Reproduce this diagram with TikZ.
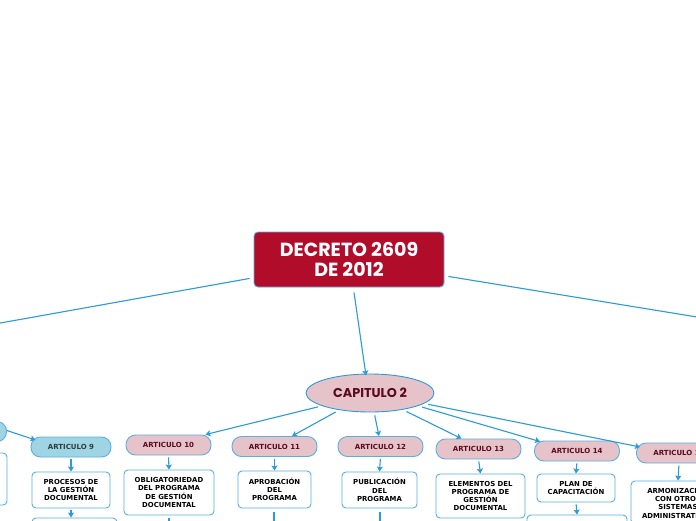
\documentclass[tikz,border=0pt]{standalone}
\usepackage{fontspec}
\setmainfont{DejaVu Sans}
\newfontfamily\titlefont{Poppins}
\usetikzlibrary{arrows.meta,shapes.geometric}
\definecolor{crim}{HTML}{B20C2B}
\definecolor{conncol}{HTML}{2B9BDB}
\definecolor{bordcol}{HTML}{5AAEE6}
\definecolor{pinkfill}{HTML}{E6C3C9}
\definecolor{bluefill}{HTML}{9FD5E3}
\definecolor{maroon}{HTML}{5A0A1E}
\definecolor{slate}{HTML}{2F3B40}
\tikzset{
  conn/.style={draw=conncol, line width=1.1pt, -{Stealth[length=5pt,width=6pt,inset=1pt]}},
  plainconn/.style={draw=conncol, line width=1.1pt},
  artpink/.style={draw=bordcol, line width=0.9pt, fill=pinkfill, rounded corners=9.5pt,
    minimum height=20pt, minimum width=85pt, inner sep=0pt,
    font=\fontsize{7}{8}\selectfont\bfseries, text=maroon},
  artblue/.style={artpink, fill=bluefill, text=slate},
  textbox/.style={draw=bordcol, line width=0.9pt, fill=white, rounded corners=4pt,
    inner sep=0pt, align=center, font=\fontsize{6.9}{8.3}\selectfont\bfseries, text=black}
}
\begin{document}
\begin{tikzpicture}[x=1pt,y=-1pt]
\useasboundingbox (0,0) rectangle (696,520);
\clip (0,0) rectangle (696,520);
\fill[white] (0,0) rectangle (696,520);

% title
\node[draw=bordcol, line width=0.9pt, fill=crim, rounded corners=4pt, minimum width=190pt, minimum height=55pt,
  inner sep=0pt, align=center, text=white, font=\titlefont\fontsize{19}{20.5}\selectfont\bfseries]
  (title) at (349,259.5) {DECRETO 2609\\DE 2012};

% chapter ellipse
\node[ellipse, draw=conncol, line width=0.9pt, fill=pinkfill, minimum width=128pt, minimum height=38pt,
  inner sep=0pt, text=maroon, font=\titlefont\fontsize{12.8}{14}\selectfont\bfseries]
  (cap) at (370,393) {CAPITULO 2};

% off-image coordinates
\coordinate (offL) at (-50,332);
\coordinate (offR) at (746,325);

% articles
\node[artblue] (artL) at (-36,431.5) {};
\node[artblue, minimum width=80pt] (a9) at (71,447) {ARTICULO 9};
\node[artpink] (a10) at (168.5,445) {ARTICULO 10};
\node[artpink] (a11) at (274.5,446.5) {ARTICULO 11};
\node[artpink] (a12) at (380.5,446.5) {ARTICULO 12};
\node[artpink] (a13) at (478.5,449) {ARTICULO 13};
\node[artpink] (a14) at (577,451) {ARTICULO 14};
\node[artpink] (a15) at (679,453) {ARTICULO 15};

% text boxes
\node[textbox, minimum width=74pt, minimum height=52pt] (bL) at (-30,479) {};
\node[textbox, minimum width=78pt, minimum height=36pt] (b9) at (71,490) {PROCESOS DE\\LA GESTIÓN\\DOCUMENTAL};
\node[textbox, minimum width=90pt, minimum height=45pt] (b10) at (169,492.5) {OBLIGATORIEDAD\\DEL PROGRAMA\\DE GESTIÓN\\DOCUMENTAL};
\node[textbox, minimum width=73pt, minimum height=37pt] (b11) at (274.5,489.5) {APROBACIÓN\\DEL\\PROGRAMA};
\node[textbox, minimum width=75pt, minimum height=36pt] (b12) at (379.5,490) {PUBLICACIÓN\\DEL\\PROGRAMA};
\node[textbox, minimum width=89pt, minimum height=44pt] (b13) at (480.5,496) {ELEMENTOS DEL\\PROGRAMA DE\\GESTIÓN\\DOCUMENTAL};
\node[textbox, minimum width=78pt, minimum height=28pt] (b14) at (576,488) {PLAN DE\\CAPACITACIÓN};
\node[textbox, minimum width=94pt, minimum height=43pt] (b15) at (678,502.5) {ARMONIZACIÓN\\CON OTROS\\SISTEMAS\\ADMINISTRATIVOS};

% boxes below (cut off)
\node[textbox, minimum width=85pt, minimum height=24pt] (b9b) at (74.5,530) {};
\node[textbox, minimum width=100pt, minimum height=24pt] (b14b) at (577,527) {};
\coordinate (d10) at (169,545);
\coordinate (d11) at (274,545);
\coordinate (d12) at (380,545);

% connectors from title
\draw[plainconn] ([xshift=-4pt,yshift=9pt]title.south west) -- (offL);
\draw[plainconn] ([xshift=4pt,yshift=11pt]title.south east) -- (offR);
\draw[conn] ([xshift=5pt,yshift=-5pt]title.south) -- ([xshift=-4pt,yshift=-2pt]cap.north);

% connectors from chapter
\draw[conn, shorten <=4pt] (cap.195) -- ([xshift=-6pt]a10.north east);
\draw[conn, shorten <=4pt] (cap.209) -- ([xshift=17.5pt]a11.north);
\draw[conn, shorten <=3pt] (cap.282) -- ([xshift=-1.5pt]a12.north);
\draw[conn, shorten <=4pt] (cap.333) -- ([xshift=-17pt]a13.north);
\draw[conn, shorten <=4pt] (cap.345) -- ([xshift=6pt,yshift=-1pt]a14.north west);
\draw[conn, shorten <=4pt] (cap.349) -- ([xshift=4pt,yshift=6pt]a15.west);
\draw[conn] ([yshift=1pt]artL.east) -- ([xshift=5pt,yshift=7pt]a9.west);

% article to box
\foreach \a/\b in {a9/b9,a10/b10,a11/b11,a12/b12,a13/b13,a14/b14,a15/b15}
  \draw[conn, shorten <=2pt] (\a.south) -- (\b.north);
\draw[conn, shorten <=2pt] (b9.south) -- ([xshift=-3.5pt]b9b.north);
\draw[conn, shorten <=2pt] (b14.south) -- (b14b.north);
\draw[plainconn, shorten <=3pt] (b10.south) -- (d10);
\draw[plainconn, shorten <=4pt] ([xshift=-0.5pt]b11.south) -- (d11);
\draw[plainconn, shorten <=4pt] ([xshift=0.5pt]b12.south) -- (d12);
\end{tikzpicture}
\end{document}
